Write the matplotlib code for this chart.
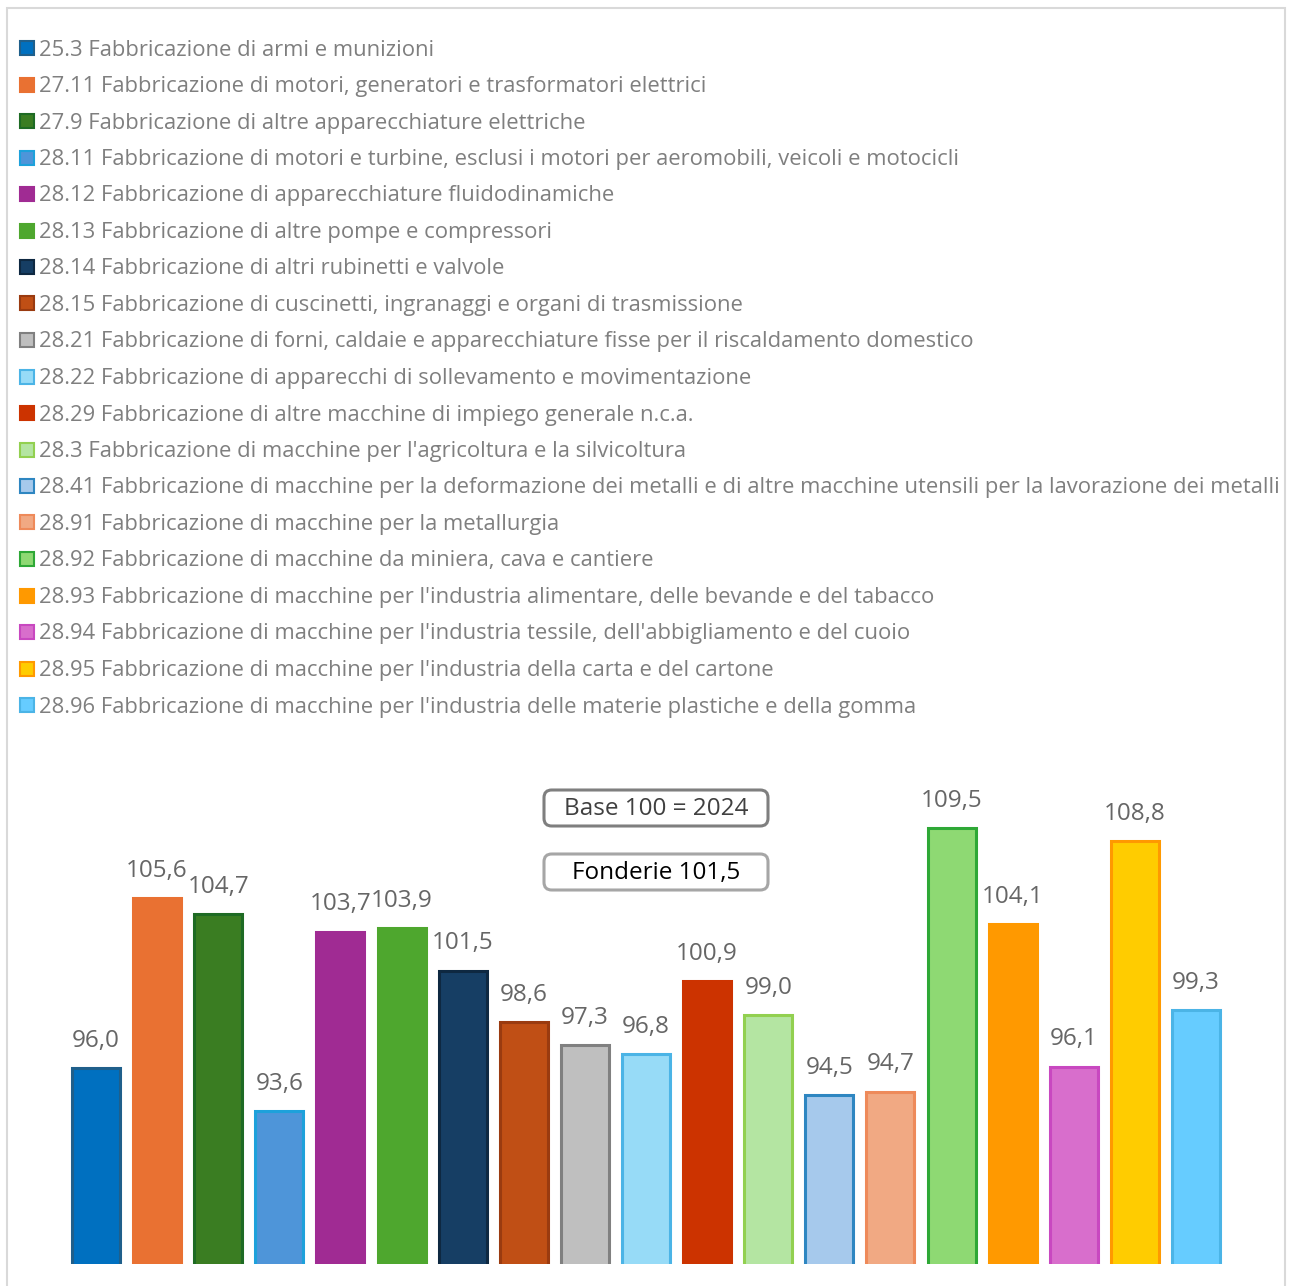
import matplotlib.pyplot as plt
from matplotlib.patches import Rectangle, FancyBboxPatch

categories = [
    '25.3 Fabbricazione di armi e munizioni',
    '27.11 Fabbricazione di motori, generatori e trasformatori elettrici',
    '27.9 Fabbricazione di altre apparecchiature elettriche',
    '28.11 Fabbricazione di motori e turbine, esclusi i motori per aeromobili, veicoli e motocicli',
    '28.12 Fabbricazione di apparecchiature fluidodinamiche',
    '28.13 Fabbricazione di altre pompe e compressori',
    '28.14 Fabbricazione di altri rubinetti e valvole',
    '28.15 Fabbricazione di cuscinetti, ingranaggi e organi di trasmissione',
    '28.21 Fabbricazione di forni, caldaie e apparecchiature fisse per il riscaldamento domestico',
    '28.22 Fabbricazione di apparecchi di sollevamento e movimentazione',
    '28.29 Fabbricazione di altre macchine di impiego generale n.c.a.',
    "28.3 Fabbricazione di macchine per l'agricoltura e la silvicoltura",
    '28.41 Fabbricazione di macchine per la deformazione dei metalli e di altre macchine utensili per la lavorazione dei metalli',
    '28.91 Fabbricazione di macchine per la metallurgia',
    '28.92 Fabbricazione di macchine da miniera, cava e cantiere',
    "28.93 Fabbricazione di macchine per l'industria alimentare, delle bevande e del tabacco",
    "28.94 Fabbricazione di macchine per l'industria tessile, dell'abbigliamento e del cuoio",
    "28.95 Fabbricazione di macchine per l'industria della carta e del cartone",
    "28.96 Fabbricazione di macchine per l'industria delle materie plastiche e della gomma",
]

values = [96.0, 105.6, 104.7, 93.6, 103.7, 103.9, 101.5, 98.6, 97.3, 96.8,
          100.9, 99.0, 94.5, 94.7, 109.5, 104.1, 96.1, 108.8, 99.3]

face_colors = ['#0070C0', '#E97132', '#3A7D22', '#4E95D9', '#A02B93', '#4EA72E',
               '#163E64', '#C04F15', '#BFBFBF', '#97DBF7', '#CC3300', '#B4E5A2',
               '#A6C9EC', '#F1A983', '#8ED973', '#FF9900', '#D86ECC', '#FFCC00',
               '#66CCFF']
edge_colors = ['#1F5F8B', '#E97132', '#1E6B24', '#1DA1DB', '#A02B93', '#4EA72E',
               '#0E2841', '#9A3B10', '#808080', '#4BB4E6', '#CC3300', '#92D050',
               '#2E86C1', '#EE8A5A', '#2EA836', '#FF9900', '#C848C0', '#FF9900',
               '#4BB4E6']

base_label = 'Base 100 = 2024'
foundry_label = 'Fonderie 101,5'

FONT = 'Open Sans'
W, H = 1291, 1286

fig = plt.figure(figsize=(W / 100, H / 100), dpi=100)

# outer frame
fig.patches.append(Rectangle((7 / W, -0.01), 1278 / W, 1 - 8 / H + 0.01,
                             transform=fig.transFigure, fill=False,
                             edgecolor='#D9D9D9', linewidth=1.5))

# legend drawn by hand, one row per category
for i, (label, fc, ec) in enumerate(zip(categories, face_colors, edge_colors)):
    yc = 48 + i * 36.5
    fig.patches.append(Rectangle((20 / W, 1 - (yc + 7) / H), 14 / W, 14 / H,
                                 transform=fig.transFigure, facecolor=fc,
                                 edgecolor=ec, linewidth=1.5))
    fig.text(39 / W, 1 - (yc + 2) / H, label, fontsize=15.8, family=FONT,
             color='#7F7F7F', va='center', ha='left')

# bars
ax = fig.add_axes([65.4 / W, 22 / H, 1161.2 / W, 480 / H])
x = range(len(values))
bars = ax.bar(x, values, width=0.785, bottom=0, color=face_colors,
              edgecolor=edge_colors, linewidth=2.2)
ax.set_xlim(-0.5, len(values) - 0.5)
ax.set_ylim(85, 112)
ax.axis('off')

for xi, v in zip(x, values):
    ax.annotate(f'{v:.1f}'.replace('.', ','), (xi, v), xytext=(0, 11),
                textcoords='offset points', ha='center', va='bottom',
                fontsize=17.5, family=FONT, color='#666666')

# info boxes
for label, yc, ec, tc in [(base_label, 808, '#7F7F7F', '#404040'),
                          (foundry_label, 872, '#A6A6A6', 'black')]:
    fig.patches.append(FancyBboxPatch((544 / W, 1 - (yc + 18) / H), 224 / W, 36 / H,
                                      boxstyle='round,pad=0,rounding_size=0.006',
                                      transform=fig.transFigure, fc='white',
                                      ec=ec, lw=2.2))
    fig.text(656 / W, 1 - (yc + 1) / H, label, fontsize=17.5, family=FONT,
             color=tc, ha='center', va='center')

plt.savefig('out.png', dpi=100, facecolor='white')
